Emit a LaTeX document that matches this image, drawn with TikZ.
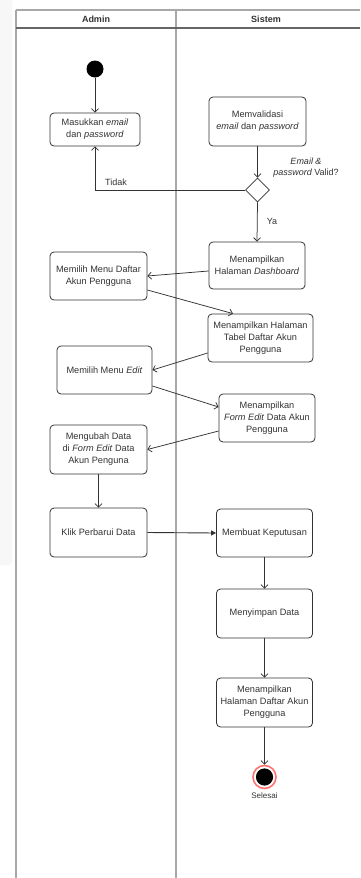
\documentclass[tikz,border=0pt]{standalone}
\usepackage{fontspec}
\setmainfont{Liberation Sans}
\usetikzlibrary{arrows.meta,calc,shapes.geometric}
\definecolor{ink}{HTML}{333333}
\definecolor{lane}{HTML}{A8A8A8}
\definecolor{laneHead}{HTML}{666666}
\definecolor{endring}{HTML}{FF3333}
\tikzset{
  act/.style={draw=ink, line width=0.8pt, rounded corners=4pt, fill=white,
    text=ink, align=center, inner sep=1pt,
    font=\fontsize{9.2}{12}\selectfont},
  flow/.style={draw=ink, line width=0.75pt,
    -{Straight Barb[length=3.5pt,width=7pt]}},
  flowfill/.style={draw=ink, line width=0.9pt,
    -{Triangle[length=5pt,width=5pt]}},
  lbl/.style={text=ink, font=\fontsize{9}{11}\selectfont, inner sep=0pt},
  lanehdr/.style={text=ink, font=\bfseries\fontsize{9}{11}\selectfont},
}
\begin{document}
\begin{tikzpicture}[x=1pt,y=-1pt]
\useasboundingbox (0,0) rectangle (360,878);
\fill[white] (0,0) rectangle (360,878);
% light panel at the left edge
\fill[gray!6, rounded corners=4pt] (-5,-5) rectangle (12,565);

% swimlanes
\draw[lane, line width=1.2pt] (16,10) -- (360,10);
\draw[lane, line width=1.2pt] (16,10) -- (16,880);
\draw[lane, line width=1.2pt] (176,10) -- (176,880);
\draw[laneHead, line width=1.1pt] (16,28) -- (360,28);
\node[lanehdr] (hAdmin) at (96,19) {Admin};
\node[lanehdr] (hSistem) at (266,19) {Sistem};

% start node
\node[circle, fill=black, minimum size=17pt, inner sep=0pt] (start) at (95,69) {};

% activities
\node[act, minimum width=90pt, minimum height=33pt] (masuk) at (95,129.5)
  {Masukkan \textit{email}\\dan \textit{password}};
\node[act, minimum width=97pt, minimum height=49pt] (valid) at (257.5,121.5)
  {Memvalidasi\\\textit{email} dan \textit{password}};
\node[diamond, draw=ink, line width=0.8pt, fill=white, minimum width=24pt,
  minimum height=24pt, inner sep=0pt] (dia) at (257.5,190) {};
\node[act, minimum width=96pt, minimum height=47pt] (dash) at (257,265.5)
  {Menampilkan\\Halaman \textit{Dashboard}};
\node[act, minimum width=97pt, minimum height=48pt] (menu) at (98.5,276)
  {Memilih Menu Daftar\\Akun Pengguna};
\node[act, minimum width=105pt, minimum height=48pt] (tabel) at (260.5,338)
  {Menampilkan Halaman\\Tabel Daftar Akun\\Pengguna};
\node[act, minimum width=95pt, minimum height=48pt] (edit) at (104.5,370)
  {Memilih Menu \textit{Edit}};
\node[act, minimum width=96pt, minimum height=48pt] (form) at (267,418)
  {Menampilkan\\\textit{Form Edit} Data Akun\\Pengguna};
\node[act, minimum width=97pt, minimum height=49pt] (ubah) at (98.5,449.5)
  {Mengubah Data\\di \textit{Form Edit} Data\\Akun Penguna};
\node[act, minimum width=97pt, minimum height=49pt] (klik) at (98.5,532.5)
  {Klik Perbarui Data};
\node[act, minimum width=96pt, minimum height=48pt] (buat) at (264.5,533)
  {Membuat Keputusan};
\node[act, minimum width=96pt, minimum height=49pt] (simpan) at (264.5,613.5)
  {Menyimpan Data};
\node[act, minimum width=96pt, minimum height=49pt] (tampil) at (264.5,702.5)
  {Menampilkan\\Halaman Daftar Akun\\Pengguna};

% final node
\node[circle, draw=endring!70, line width=1.6pt, fill=white, minimum size=23pt,
  inner sep=0pt] (stop) at (264.5,777) {};
\fill[black] (stop.center) circle (8.6pt);
\node[lbl, font=\fontsize{8}{10}\selectfont] (selesai) at (264.5,796) {Selesai};

% guard labels
\node[lbl, align=center, font=\itshape\fontsize{9}{11}\selectfont] (guard) at (306,168)
  {Email \&\\password \upshape{Valid?}};
\node[lbl] (tidak) at (116,182) {Tidak};
\node[lbl] (ya) at (272,221) {Ya};

% control flow
\draw[flow] (start) -- (masuk.north);
\draw[flow] (valid.south) -- (dia.north);
\draw[flow] (dia.west) -| (masuk.south);
\draw[flow] (dia.south) -- (dash.north);
\draw[flow] ([yshift=-5.5pt]dash.west) -- (menu.east);
\draw[flow] ([yshift=-14pt]menu.east) -- ([xshift=-27.5pt]tabel.north);
\draw[flow] ([yshift=-15pt]tabel.west) -- (edit.east);
\draw[flow] ([yshift=-16pt]edit.east) -- ([yshift=11pt]form.west);
\draw[flow] ([yshift=-13pt]form.west) -- (ubah.east);
\draw[flow] (ubah.south) -- (klik.north);
\draw[flowfill] (klik.east) -- (buat.west);
\draw[flow] (buat.south) -- (simpan.north);
\draw[flow] (simpan.south) -- (tampil.north);
\draw[flow] (tampil.south) -- (stop.north);
\end{tikzpicture}
\end{document}
